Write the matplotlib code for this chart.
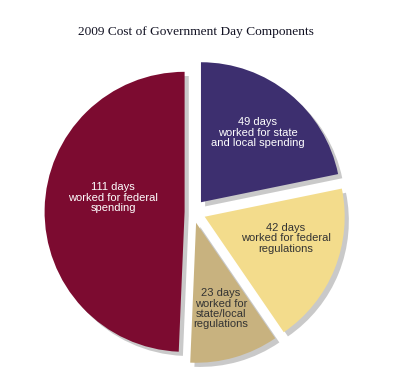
import numpy as np
import matplotlib
matplotlib.use("Agg")
import matplotlib.pyplot as plt
import matplotlib.patheffects as pe

# slices in drawing order, clockwise from 12 o'clock
days = [49, 42, 23, 111]
labels = [
    "49 days\nworked for state\nand local spending",
    "42 days\nworked for federal\nregulations",
    "23 days\nworked for\nstate/local\nregulations",
    "111 days\nworked for federal\nspending",
]
colors = ["#3d2f6f", "#f3dc8c", "#c8b27f", "#7c0b30"]
text_colors = ["white", "#333333", "#333333", "white"]
explode = [0.09, 0.09, 0.08, 0.06]
label_r = [0.64, 0.6, 0.64, 0.52]
label_turn = [0, 7, 0, -10]   # degrees, nudge labels off the mid line

fig = plt.figure(figsize=(4.0, 3.89), dpi=100)
ax = fig.add_axes([0, 0, 1, 1])

wedges, _ = ax.pie(days, colors=colors, explode=explode, startangle=90,
                   counterclock=False, radius=1.0,
                   wedgeprops=dict(linewidth=0))
for w in wedges:
    w.set_path_effects([pe.SimplePatchShadow(offset=(3, -3), shadow_rgbFace="#888888", alpha=0.45),
                        pe.Normal()])

for w, lab, tc, r, t in zip(wedges, labels, text_colors, label_r, label_turn):
    mid = np.deg2rad((w.theta1 + w.theta2) / 2 + t)
    cx, cy = w.center
    ax.text(cx + r * np.cos(mid), cy + r * np.sin(mid), lab, ha="center", va="center",
            color=tc, fontsize=8, family="Liberation Sans", linespacing=1.05)

ax.set_aspect("equal")
ax.set_xlim(-193 / 140, 207 / 140)
ax.set_ylim(-177 / 140, 212 / 140)
ax.axis("off")

fig.text(0.49, 0.918, "2009 Cost of Government Day Components", ha="center", va="center",
         fontsize=9.6, family="Liberation Serif", color="#111122")

fig.savefig("out.png", dpi=100)
